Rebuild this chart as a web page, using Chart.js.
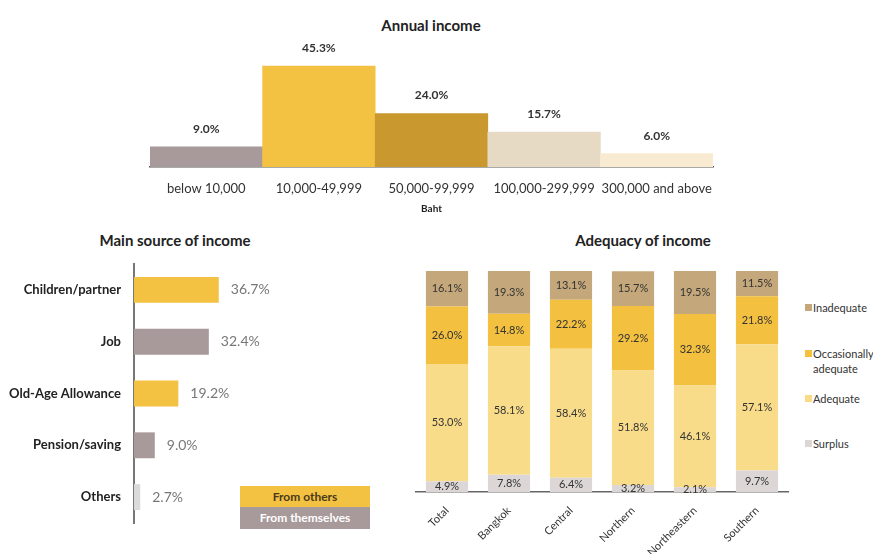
<!DOCTYPE html>
<html>
<head>
<meta charset="utf-8">
<script src="https://cdn.jsdelivr.net/npm/chart.js@4"></script>
<style>
  body { margin: 0; background: #fff; font-family: Lato, "Open Sans", sans-serif; }
  #page { position: relative; width: 873px; height: 554px; overflow: hidden; }
  .box { position: absolute; }
  .title { position: absolute; font-weight: bold; font-size: 15px; color: #222; transform: translate(-50%, -50%); white-space: nowrap; }
  .src-key { position: absolute; left: 240px; width: 130px; font-size: 12px; font-weight: bold; text-align: center; }
  .adq-key { position: absolute; left: 805px; font-size: 11px; color: #333; line-height: 15px; }
  .adq-key i { position: absolute; left: 0; top: 4px; width: 7px; height: 7px; }
  .adq-key span { display: block; padding-left: 8px; }
</style>
</head>
<body>
<div id="page">
  <div class="title" style="left:431px; top:25px;">Annual income</div>
  <div class="title" style="left:175px; top:240px;">Main source of income</div>
  <div class="title" style="left:643px; top:240px;">Adequacy of income</div>

  <div class="box" style="left:140px; top:0; width:590px; height:220px;"><canvas id="income"></canvas></div>
  <div class="box" style="left:0; top:244px; width:380px; height:300px;"><canvas id="source"></canvas></div>
  <div class="box" style="left:400px; top:255px; width:400px; height:299px;"><canvas id="adequacy"></canvas></div>

  <div class="src-key" style="top:486px; height:21px; line-height:21px; background:#f4c242; color:#4a3a1a;">From others</div>
  <div class="src-key" style="top:507px; height:22px; line-height:22px; background:#a8999a; color:#fff;">From themselves</div>

  <div class="adq-key" style="top:300px;"><i style="background:#c4a77a"></i><span>Inadequate</span></div>
  <div class="adq-key" style="top:346px;"><i style="background:#f3c040"></i><span>Occasionally<br>adequate</span></div>
  <div class="adq-key" style="top:391px;"><i style="background:#f9dc8a"></i><span>Adequate</span></div>
  <div class="adq-key" style="top:436px;"><i style="background:#dcd6d6"></i><span>Surplus</span></div>
</div>

<script>
// Annual income
const incomeBands = ['below 10,000', '10,000-49,999', '50,000-99,999', '100,000-299,999', '300,000 and above'];
const incomeShare = [9.0, 45.3, 24.0, 15.7, 6.0];
const incomeColors = ['#a8999a', '#f4c243', '#c9982e', '#e6dac5', '#f9ebd2'];

// Main source of income
const sources = ['Children/partner', 'Job', 'Old-Age Allowance', 'Pension/saving', 'Others'];
const sourceShare = [36.7, 32.4, 19.2, 9.0, 2.7];
const sourceColors = ['#f4c242', '#a8999a', '#f4c242', '#a8999a', '#dadada'];

// Adequacy of income
const regions = ['Total', 'Bangkok', 'Central', 'Northern', 'Northeastern', 'Southern'];
const surplus = [4.9, 7.8, 6.4, 3.2, 2.1, 9.7];
const adequate = [53.0, 58.1, 58.4, 51.8, 46.1, 57.1];
const occasionally = [26.0, 14.8, 22.2, 29.2, 32.3, 21.8];
const inadequate = [16.1, 19.3, 13.1, 15.7, 19.5, 11.5];

Chart.defaults.font.family = 'Lato, "Open Sans", sans-serif';
Chart.defaults.animation = false;
Chart.defaults.plugins.legend.display = false;
Chart.defaults.plugins.tooltip.enabled = false;

const pct = v => v.toFixed(1) + '%';

// labels above the income bars
const incomeLabels = {
    id: 'incomeLabels',
    afterDatasetsDraw(chart) {
        const ctx = chart.ctx;
        ctx.save();
        ctx.font = 'bold 12px Lato';
        ctx.fillStyle = '#333';
        ctx.textAlign = 'center';
        ctx.textBaseline = 'bottom';
        chart.getDatasetMeta(0).data.forEach((bar, i) => {
            ctx.fillText(pct(incomeShare[i]), bar.x, bar.y - 12);
        });
        ctx.restore();
    }
};

// labels to the right of the source bars
const sourceLabels = {
    id: 'sourceLabels',
    afterDatasetsDraw(chart) {
        const ctx = chart.ctx;
        ctx.save();
        ctx.font = '14px Lato';
        ctx.fillStyle = '#777';
        ctx.textAlign = 'left';
        ctx.textBaseline = 'middle';
        chart.getDatasetMeta(0).data.forEach((bar, i) => {
            ctx.fillText(pct(sourceShare[i]), bar.x + 12, bar.y);
        });
        ctx.restore();
    }
};

// labels inside the stacked segments
const stackLabels = {
    id: 'stackLabels',
    afterDatasetsDraw(chart) {
        const ctx = chart.ctx;
        ctx.save();
        ctx.font = '11px Lato';
        ctx.fillStyle = '#333';
        ctx.textAlign = 'center';
        ctx.textBaseline = 'middle';
        chart.data.datasets.forEach((ds, di) => {
            chart.getDatasetMeta(di).data.forEach((bar, i) => {
                ctx.fillText(pct(ds.data[i]), bar.x, (bar.y + bar.base) / 2);
            });
        });
        ctx.restore();
    }
};

new Chart(document.getElementById('income'), {
    type: 'bar',
    data: {
        labels: incomeBands,
        datasets: [{ data: incomeShare, backgroundColor: incomeColors, categoryPercentage: 1, barPercentage: 1 }]
    },
    options: {
        responsive: true,
        maintainAspectRatio: false,
        layout: { padding: { left: 10, right: 17, top: 40, bottom: 0 } },
        scales: {
            x: {
                grid: { display: false },
                border: { display: true, color: '#555', width: 1.5 },
                ticks: { color: '#333', font: { size: 13 }, padding: 6, maxRotation: 0, autoSkip: false },
                title: { display: true, text: 'Baht', color: '#222', font: { size: 10, weight: 'bold' }, padding: { top: 2, bottom: 5 } },
                afterFit: s => { s.height = 53; }
            },
            y: { display: false, min: 0, max: 57 }
        }
    },
    plugins: [incomeLabels]
});

new Chart(document.getElementById('source'), {
    type: 'bar',
    data: {
        labels: sources,
        datasets: [{ data: sourceShare, backgroundColor: sourceColors, categoryPercentage: 1, barPercentage: 0.5 }]
    },
    options: {
        indexAxis: 'y',
        responsive: true,
        maintainAspectRatio: false,
        layout: { padding: { left: 0, right: 0, top: 20, bottom: 21 } },
        scales: {
            y: {
                grid: { display: false },
                border: { display: true, color: '#777', width: 2 },
                ticks: { color: '#222', font: { size: 13, weight: 'bold' }, padding: 5 },
                afterFit: s => { s.width = 134; }
            },
            x: { display: false, min: 0, max: 106.5 }
        }
    },
    plugins: [sourceLabels]
});

new Chart(document.getElementById('adequacy'), {
    type: 'bar',
    data: {
        labels: regions,
        datasets: [
            { label: 'Surplus', data: surplus, backgroundColor: '#dcd6d6' },
            { label: 'Adequate', data: adequate, backgroundColor: '#f9dc8a' },
            { label: 'Occasionally adequate', data: occasionally, backgroundColor: '#f3c040' },
            { label: 'Inadequate', data: inadequate, backgroundColor: '#c4a77a' }
        ]
    },
    options: {
        responsive: true,
        maintainAspectRatio: false,
        datasets: { bar: { categoryPercentage: 1, barPercentage: 0.68 } },
        layout: { padding: { left: 16, right: 12, top: 16, bottom: 0 } },
        scales: {
            x: {
                stacked: true,
                grid: { display: false },
                border: { display: true, color: '#666', width: 1.5 },
                ticks: { color: '#333', font: { size: 11 }, padding: 4, minRotation: 45, maxRotation: 45 },
                afterFit: s => { s.height = 62; }
            },
            y: { display: false, stacked: true, min: 0, max: 100 }
        }
    },
    plugins: [stackLabels]
});
</script>
</body>
</html>
